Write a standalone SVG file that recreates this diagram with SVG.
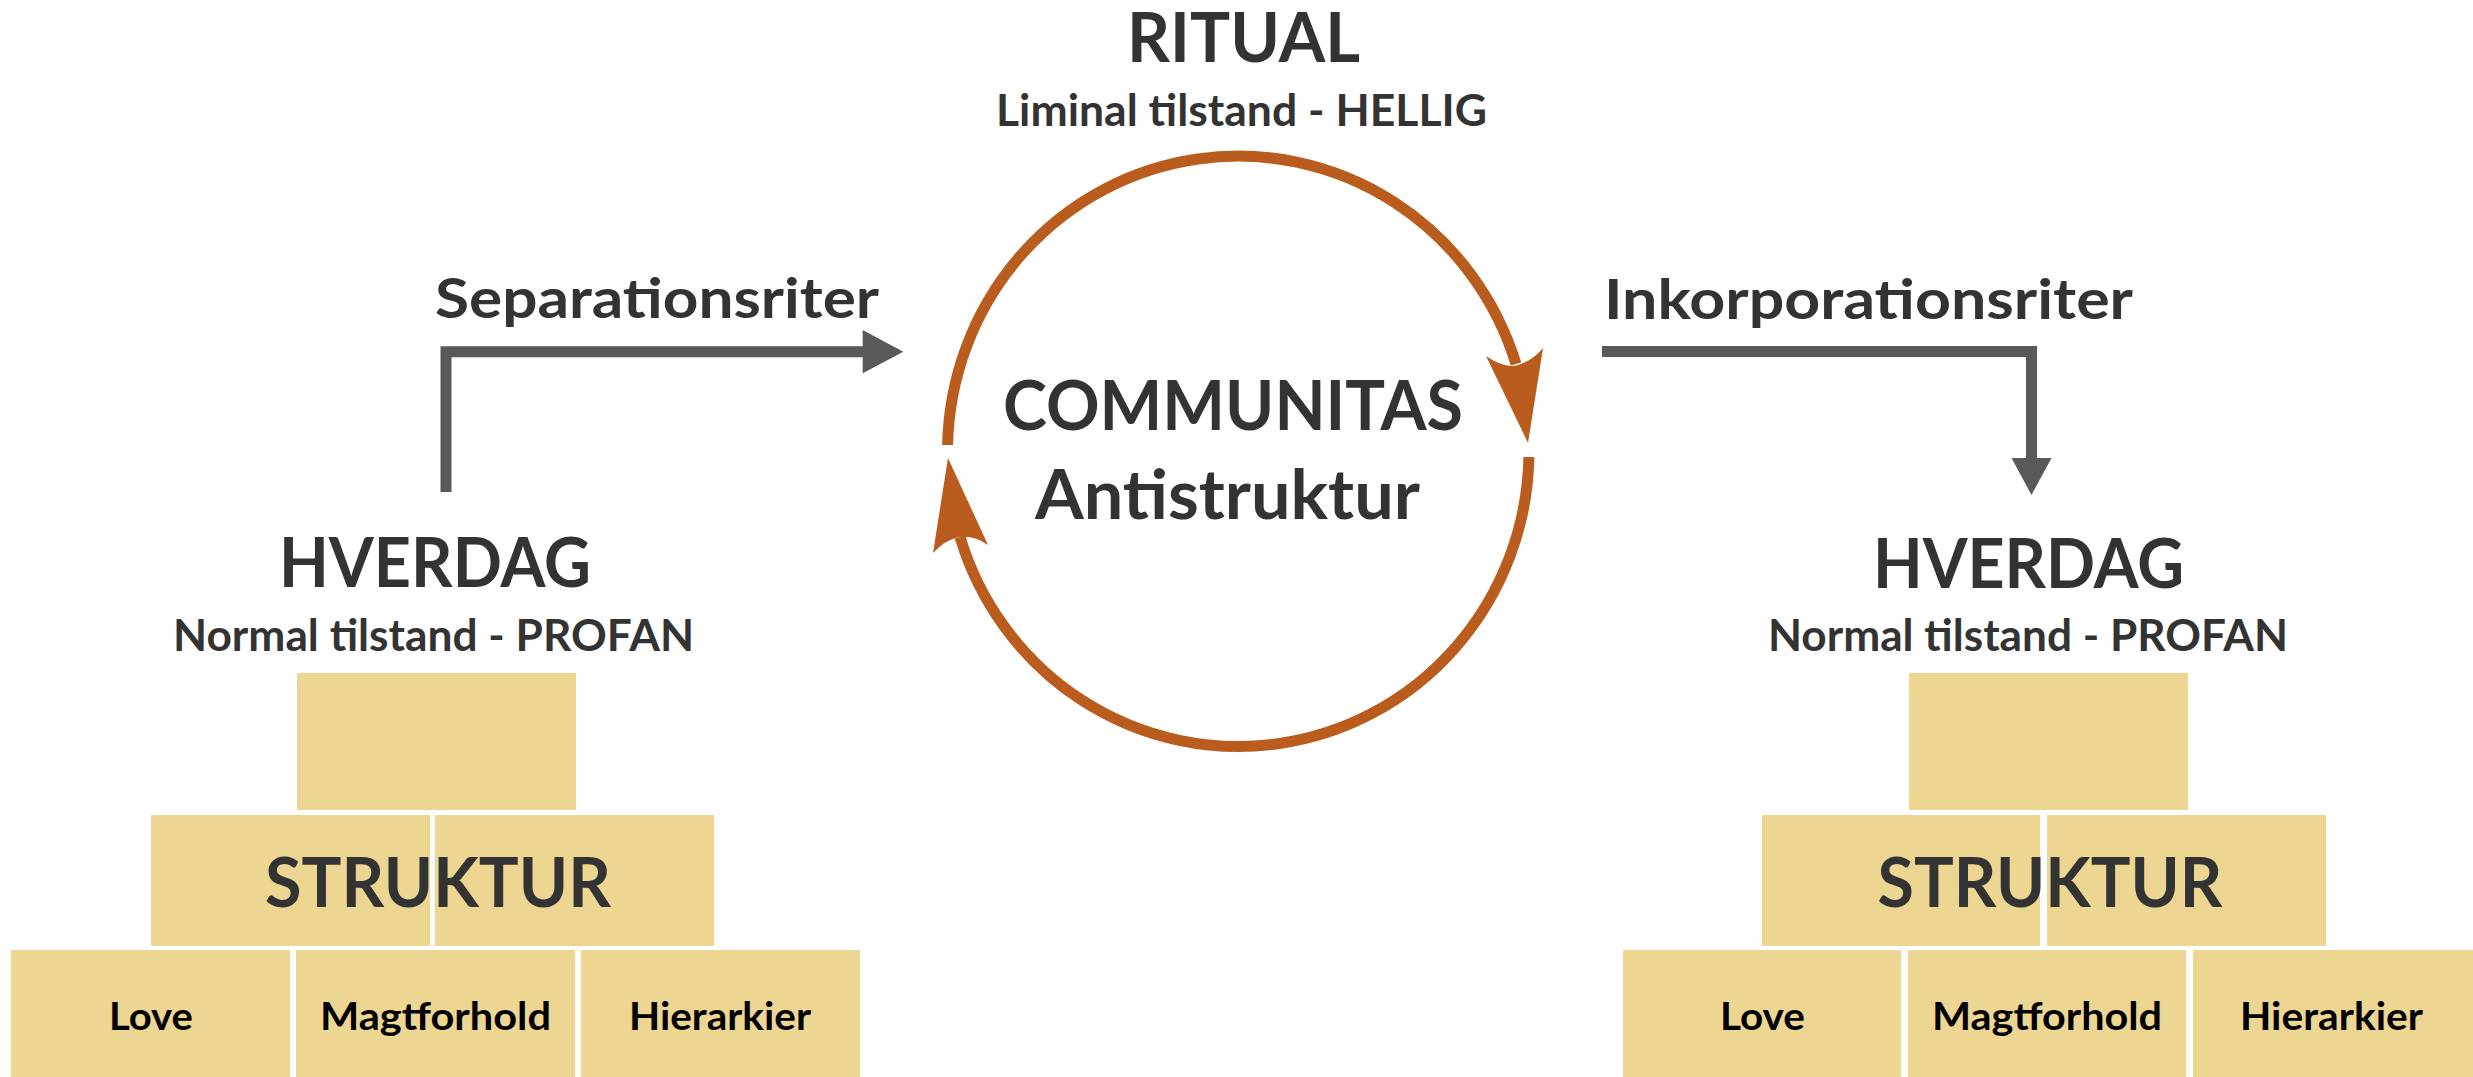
<svg xmlns="http://www.w3.org/2000/svg" width="2473" height="1077" viewBox="0 0 2473 1077">
  <style>
    text { font-family: "Lato", "Open Sans", "Liberation Sans", sans-serif; font-weight: bold; text-anchor: middle; }
    .big { font-size: 68px; fill: #333333; }
    .sub { font-size: 43px; fill: #333333; }
    .lbl { font-size: 56px; fill: #333333; }
    .cell { font-size: 39px; fill: #000000; }
    .box { fill: #EDD592; }
    .gray { fill: none; stroke: #595959; stroke-width: 11; stroke-linejoin: miter; stroke-linecap: butt; }
    .grayhead { fill: #595959; }
    .arc { fill: none; stroke: #B95C1E; stroke-width: 11; stroke-linecap: butt; }
    .archead { fill: #B95C1E; }
  </style>
  <rect width="2473" height="1077" fill="#FFFFFF"/>

  <g id="ritual">
    <text class="big" x="1243.5" y="62" textLength="233" lengthAdjust="spacingAndGlyphs">RITUAL</text>
    <text class="sub" x="1241.5" y="126" textLength="491" lengthAdjust="spacingAndGlyphs">Liminal tilstand - HELLIG</text>
  </g>

  <g id="communitas">
    <text class="big" x="1233" y="430" textLength="460" lengthAdjust="spacingAndGlyphs">COMMUNITAS</text>
    <text class="big" x="1227.5" y="519" textLength="385" lengthAdjust="spacingAndGlyphs">Antistruktur</text>
  </g>

  <g id="hverdag-left">
    <text class="big" x="435" y="587" textLength="312" lengthAdjust="spacingAndGlyphs">HVERDAG</text>
    <text class="sub" x="433.5" y="651" textLength="521" lengthAdjust="spacingAndGlyphs">Normal tilstand - PROFAN</text>
  </g>

  <g id="hverdag-right">
    <text class="big" x="2028.5" y="588" textLength="311" lengthAdjust="spacingAndGlyphs">HVERDAG</text>
    <text class="sub" x="2028" y="651" textLength="520" lengthAdjust="spacingAndGlyphs">Normal tilstand - PROFAN</text>
  </g>

  <g id="struktur-left">
    <rect class="box" x="297" y="673" width="279" height="137"/>
    <rect class="box" x="151" y="815" width="279" height="131"/>
    <rect class="box" x="435" y="815" width="279" height="131"/>
    <text class="big" x="438" y="907" textLength="346" lengthAdjust="spacingAndGlyphs">STRUKTUR</text>
  </g>
  <g id="love-left">
    <rect class="box" x="11" y="950" width="279" height="127"/>
    <text class="cell" x="151" y="1030" textLength="84" lengthAdjust="spacingAndGlyphs">Love</text>
  </g>
  <g id="magtforhold-left">
    <rect class="box" x="296" y="950" width="279" height="127"/>
    <text class="cell" x="435.5" y="1030" textLength="231" lengthAdjust="spacingAndGlyphs">Magtforhold</text>
  </g>
  <g id="hierarkier-left">
    <rect class="box" x="581" y="950" width="279" height="127"/>
    <text class="cell" x="720" y="1030" textLength="182" lengthAdjust="spacingAndGlyphs">Hierarkier</text>
  </g>

  <g id="struktur-right">
    <rect class="box" x="1909" y="673" width="279" height="137"/>
    <rect class="box" x="1762" y="815" width="278" height="131"/>
    <rect class="box" x="2047" y="815" width="279" height="131"/>
    <text class="big" x="2050" y="907" textLength="345" lengthAdjust="spacingAndGlyphs">STRUKTUR</text>
  </g>
  <g id="love-right">
    <rect class="box" x="1623" y="950" width="278" height="127"/>
    <text class="cell" x="1762.5" y="1030" textLength="85" lengthAdjust="spacingAndGlyphs">Love</text>
  </g>
  <g id="magtforhold-right">
    <rect class="box" x="1908" y="950" width="278" height="127"/>
    <text class="cell" x="2047" y="1030" textLength="230" lengthAdjust="spacingAndGlyphs">Magtforhold</text>
  </g>
  <g id="hierarkier-right">
    <rect class="box" x="2193" y="950" width="280" height="127"/>
    <text class="cell" x="2331.5" y="1030" textLength="183" lengthAdjust="spacingAndGlyphs">Hierarkier</text>
  </g>

  <g id="connectors">
    <g id="separation">
      <polyline class="gray" points="446,492 446,351.7 864,351.7"/>
      <polygon class="grayhead" points="862.7,330 903.3,351.7 862.7,373.3"/>
      <text class="lbl" x="657" y="318" textLength="444" lengthAdjust="spacingAndGlyphs">Separationsriter</text>
    </g>
    <g id="incorporation">
      <polyline class="gray" points="1602,351.5 2031.5,351.5 2031.5,460"/>
      <polygon class="grayhead" points="2011.5,458 2051.5,458 2031.5,495"/>
      <text class="lbl" x="1868.5" y="319" textLength="529" lengthAdjust="spacingAndGlyphs">Inkorporationsriter</text>
    </g>
    <g id="ritual-cycle">
      <path class="arc" d="M947.6,445 A290.75,295.3 0 0 1 1516,364"/>
      <path class="archead" d="M1528,443 L1486,356 Q1505,369 1518,365 Q1532,361 1543,348 Z"/>
      <path class="arc" d="M1528.9,457 A290.75,295.3 0 0 1 960,537"/>
      <path class="archead" d="M948,458 L988,545 Q974,535 959,537 Q945,540 933,553 Z"/>
    </g>
  </g>
</svg>
